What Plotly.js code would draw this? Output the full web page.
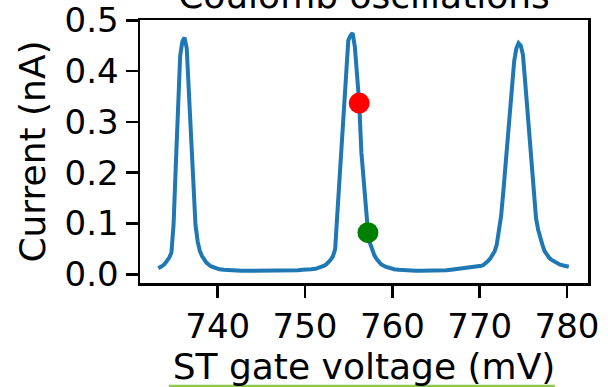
<!DOCTYPE html>
<html>
<head>
<meta charset="utf-8">
<script src="https://cdn.plot.ly/plotly-3.0.1.min.js"></script>
<style>html,body{margin:0;padding:0;background:#fff;}#chart{width:608px;height:387px;}</style>
</head>
<body>
<div id="chart"></div>
<script>
// ST gate voltage (mV)
const gateVoltage = [
  733.2, 733.45, 733.7, 733.95, 734.2, 734.45, 734.7, 734.95, 735.2, 735.45,
  735.7, 735.95, 736.2, 736.45, 736.7, 736.95, 737.2, 737.45, 737.7, 737.95,
  738.2, 738.45, 738.7, 739.2, 739.7, 740.2, 740.7, 741.2, 741.7, 742.2,
  742.7, 743.2, 743.7, 744.2, 744.7, 745.2, 745.7, 746.2, 746.7, 747.2,
  747.7, 748.2, 748.7, 749.2, 749.7, 750.2, 750.7, 751.2, 751.7, 751.95,
  752.2, 752.45, 752.7, 752.95, 753.2, 753.45, 753.7, 753.95, 754.2, 754.45,
  754.7, 754.95, 755.2, 755.45, 755.7, 755.95, 756.2, 756.45, 756.7, 756.95,
  757.2, 757.45, 757.7, 757.95, 758.2, 758.45, 758.7, 759.2, 759.7, 760.2,
  760.7, 761.2, 761.7, 762.2, 762.7, 763.2, 763.7, 764.2, 764.7, 765.2,
  765.7, 766.2, 766.7, 767.2, 767.7, 768.2, 768.7, 769.2, 769.7, 769.95,
  770.2, 770.45, 770.7, 770.95, 771.2, 771.45, 771.7, 771.95, 772.2, 772.45,
  772.7, 772.95, 773.2, 773.45, 773.7, 773.95, 774.2, 774.45, 774.7, 774.95,
  775.2, 775.45, 775.7, 775.95, 776.2, 776.45, 776.7, 776.95, 777.2, 777.45,
  777.7, 777.95, 778.2, 778.7, 779.2, 779.7, 780.2
];
// Current (nA)
const current = [
  0.012, 0.014, 0.017, 0.021, 0.026, 0.033, 0.043, 0.100, 0.215, 0.330,
  0.430, 0.458, 0.466, 0.445, 0.350, 0.260, 0.175, 0.098, 0.065, 0.046,
  0.036, 0.029, 0.023, 0.016, 0.012, 0.010, 0.009, 0.008, 0.008, 0.008,
  0.007, 0.007, 0.007, 0.007, 0.007, 0.007, 0.007, 0.007, 0.007, 0.007,
  0.007, 0.008, 0.008, 0.008, 0.009, 0.009, 0.010, 0.011, 0.013, 0.015,
  0.017, 0.020, 0.024, 0.029, 0.036, 0.050, 0.120, 0.190, 0.265, 0.340,
  0.415, 0.460, 0.470, 0.475, 0.448, 0.400, 0.338, 0.240, 0.185, 0.135,
  0.085, 0.061, 0.046, 0.037, 0.030, 0.025, 0.020, 0.015, 0.012, 0.010,
  0.009, 0.008, 0.008, 0.008, 0.007, 0.007, 0.007, 0.007, 0.007, 0.007,
  0.008, 0.008, 0.009, 0.010, 0.011, 0.012, 0.013, 0.014, 0.015, 0.016,
  0.017, 0.019, 0.022, 0.026, 0.031, 0.037, 0.045, 0.058, 0.083, 0.115,
  0.162, 0.213, 0.268, 0.325, 0.375, 0.420, 0.445, 0.455, 0.450, 0.432,
  0.380, 0.325, 0.260, 0.195, 0.150, 0.110, 0.087, 0.070, 0.057, 0.045,
  0.038, 0.033, 0.029, 0.023, 0.019, 0.017, 0.015
];
// Highlighted operating points
const redPointX = [756.2];
const redPointY = [0.337];
const greenPointX = [757.2];
const greenPointY = [0.082];

const xTicks = [740, 750, 760, 770, 780];
const yTicks = [0.0, 0.1, 0.2, 0.3, 0.4, 0.5];
const yTickLabels = ['0.0', '0.1', '0.2', '0.3', '0.4', '0.5'];

const data = [
  {x: gateVoltage, y: current, type: 'scatter', mode: 'lines',
   line: {color: '#1f77b4', width: 4}, hoverinfo: 'skip'},
  {x: redPointX, y: redPointY, type: 'scatter', mode: 'markers',
   marker: {color: '#ff0000', size: 21}},
  {x: greenPointX, y: greenPointY, type: 'scatter', mode: 'markers',
   marker: {color: '#008000', size: 21}}
];

const font = {family: 'DejaVu Sans, sans-serif', color: '#000'};

const layout = {
  width: 608, height: 387,
  margin: {l: 140, r: 20, t: 20, b: 104, pad: 0},
  paper_bgcolor: '#fff', plot_bgcolor: '#fff',
  showlegend: false,
  font: font,
  title: {text: 'Coulomb oscillations', font: {family: font.family, size: 36, color: '#000'},
          xref: 'paper', x: 0.5, xanchor: 'center', yref: 'container', y: 0.98, yanchor: 'bottom'},
  xaxis: {
    range: [731.1, 782.4],
    tickvals: xTicks, ticktext: xTicks.map(String),
    ticks: 'outside', ticklen: 12, tickwidth: 2.5, tickcolor: '#000',
    showline: true, linecolor: '#000', linewidth: 2.5, mirror: true,
    showgrid: false, zeroline: false,
    tickfont: {family: font.family, size: 34, color: '#000'},
    title: {text: 'ST gate voltage (mV)', font: {family: font.family, size: 36, color: '#000'}, standoff: 8},
    automargin: false
  },
  yaxis: {
    range: [-0.017, 0.5005],
    tickvals: yTicks, ticktext: yTickLabels,
    ticks: 'outside', ticklen: 12, tickwidth: 2.5, tickcolor: '#000',
    showline: true, linecolor: '#000', linewidth: 2.5, mirror: true,
    showgrid: false, zeroline: false,
    tickfont: {family: font.family, size: 34, color: '#000'},
    title: {text: 'Current (nA)', font: {family: font.family, size: 36, color: '#000'}, standoff: 8},
    automargin: false
  },
  shapes: [
    {type: 'line', xref: 'paper', yref: 'paper', x0: 0.0647, x1: 0.926, y0: -0.392, y1: -0.392,
     line: {color: '#8cc84b', width: 2.5}}
  ]
};

Plotly.newPlot('chart', data, layout, {displayModeBar: false, staticPlot: true});
</script>
</body>
</html>
